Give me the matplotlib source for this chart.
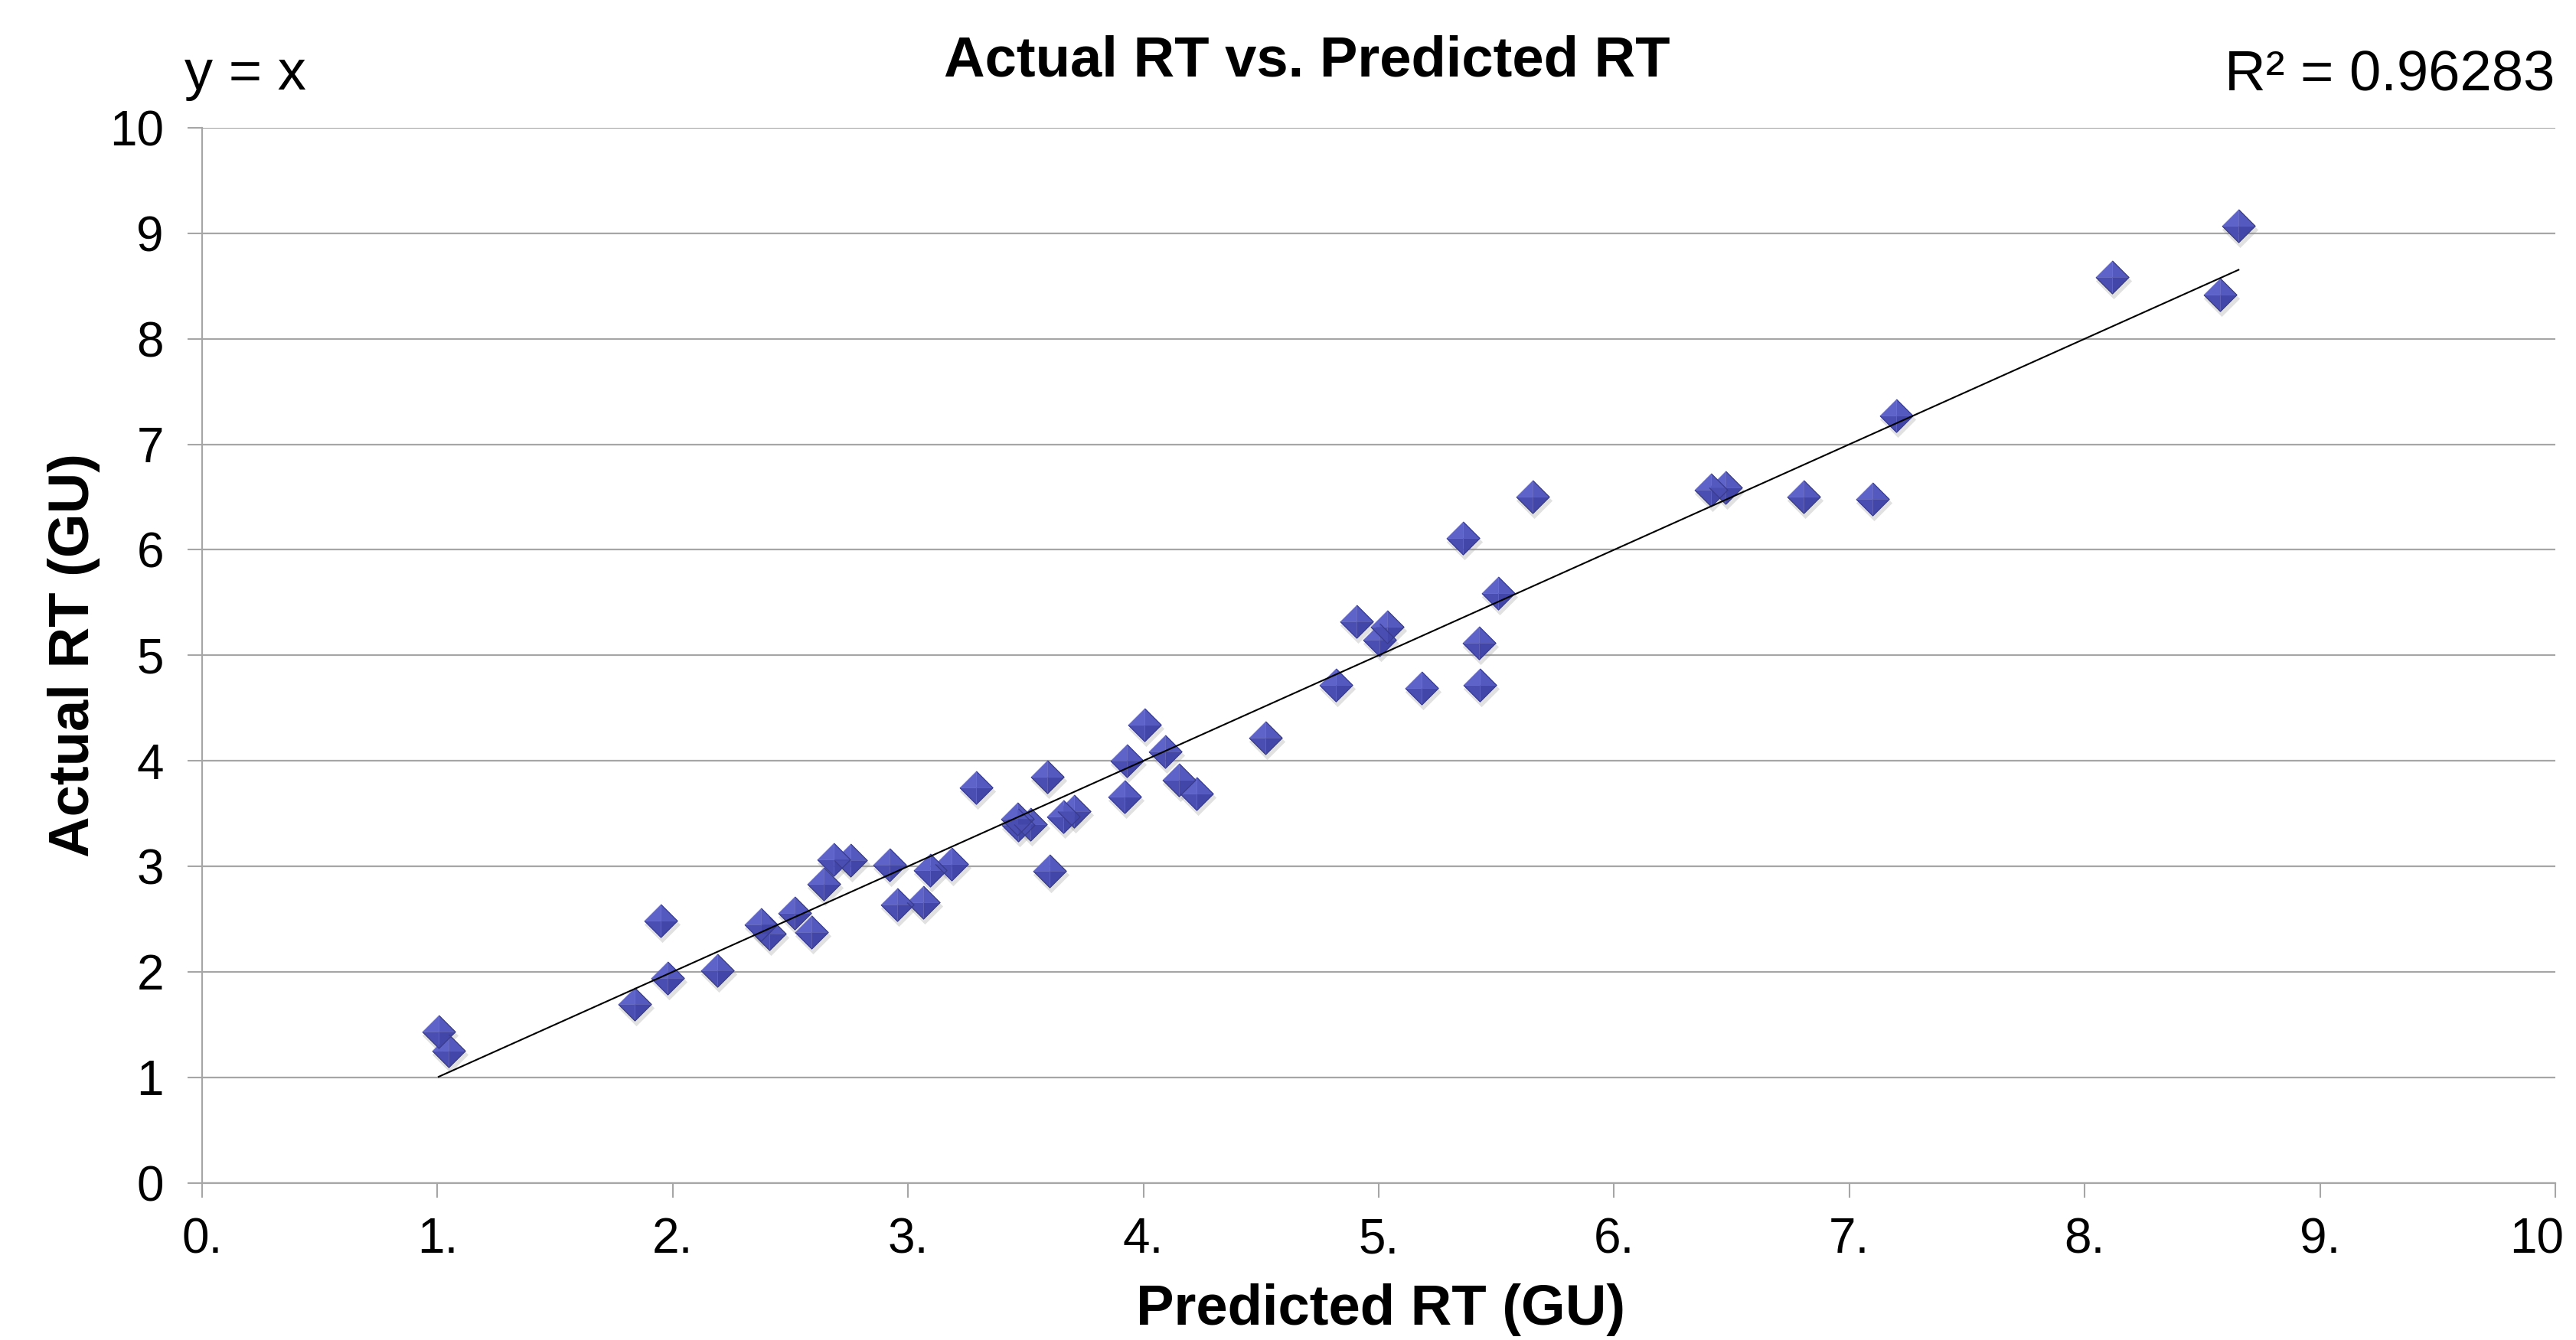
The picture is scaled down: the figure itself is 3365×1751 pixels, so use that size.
import matplotlib
matplotlib.use("Agg")
import matplotlib.pyplot as plt
import matplotlib.transforms as mtransforms

plt.rcParams['font.family'] = ['Liberation Sans', 'DejaVu Sans']

# predicted vs actual retention time (GU)
predicted = [1.005, 1.048, 1.838, 1.950, 1.977, 2.188, 2.375, 2.410, 2.519, 2.589,
             2.642, 2.685, 2.754, 2.922, 2.953, 3.066, 3.093, 3.184, 3.289, 3.466,
             3.468, 3.520, 3.591, 3.601, 3.660, 3.705, 3.919, 3.929, 4.005, 4.092,
             4.150, 4.227, 4.519, 4.818, 4.907, 5.002, 5.035, 5.183, 5.359, 5.427,
             5.430, 5.508, 5.655, 6.412, 6.473, 6.807, 7.099, 7.200, 8.115, 8.576,
             8.654]
actual = [1.436, 1.255, 1.693, 2.488, 1.940, 2.017, 2.450, 2.365, 2.559, 2.375,
          2.830, 3.064, 3.057, 3.013, 2.641, 2.660, 2.966, 3.022, 3.748, 3.451,
          3.395, 3.400, 3.850, 2.955, 3.472, 3.520, 3.662, 4.003, 4.340, 4.088,
          3.822, 3.689, 4.220, 4.720, 5.320, 5.150, 5.270, 4.692, 6.112, 5.120,
          4.720, 5.587, 6.504, 6.567, 6.591, 6.504, 6.482, 7.273, 8.587, 8.422,
          9.068]

x_ticks = [0, 1, 2, 3, 4, 5, 6, 7, 8, 9, 10]
x_ticklabels = ['0.', '1.', '2.', '3.', '4.', '5.', '6.', '7.', '8.', '9.', '10']
y_ticks = [0, 1, 2, 3, 4, 5, 6, 7, 8, 9, 10]

W, H = 3366, 1751
fig = plt.figure(figsize=(W / 100, H / 100), dpi=100)
ax = fig.add_axes([264 / W, 205.4 / H, (3338 - 264) / W, (1545.6 - 167) / H])

grey = '#a6a6a6'
ms = 31

# diamond markers with a bevelled look: shadow, four facets, outline
diamond = [(0, 1), (1, 0), (0, -1), (-1, 0)]
shadow_tr = mtransforms.offset_copy(ax.transData, fig=fig, x=2, y=-5, units='dots')
ax.plot(predicted, actual, ls='none', marker=diamond, ms=ms + 3, mfc='#888888',
        mec='none', alpha=0.25, transform=shadow_tr, zorder=2)

facets = [
    ([(0, 0), (-1, 0), (0, 1)], '#5e63c9'),   # top left
    ([(0, 0), (0, 1), (1, 0)], '#5459c0'),    # top right
    ([(0, 0), (1, 0), (0, -1)], '#4246a8'),   # bottom right
    ([(0, 0), (0, -1), (-1, 0)], '#4a4eb2'),  # bottom left
]
for verts, col in facets:
    ax.plot(predicted, actual, ls='none', marker=verts, ms=ms, mfc=col,
            mec=col, mew=0.3, zorder=3)
ax.plot(predicted, actual, ls='none', marker=diamond, ms=ms, mfc='none',
        mec='#393c8c', mew=0.9, zorder=4)

# y = x reference line over the data range
lo, hi = min(predicted), max(predicted)
ax.plot([lo, hi], [lo, hi], color='black', lw=1.5, zorder=5)

ax.set_xlim(0, 10)
ax.set_ylim(0, 10)
ax.set_xticks(x_ticks)
ax.set_xticklabels(x_ticklabels)
ax.set_yticks(y_ticks)
ax.yaxis.grid(True, color=grey, lw=1.6, zorder=0)
ax.set_axisbelow(True)
for s in ['top', 'right']:
    ax.spines[s].set_visible(False)
for s in ['left', 'bottom']:
    ax.spines[s].set_color(grey)
    ax.spines[s].set_linewidth(1.6)
ax.tick_params(axis='both', length=14, width=1.5, color=grey, labelsize=46, direction='out')
ax.tick_params(axis='x', pad=18)
ax.tick_params(axis='y', pad=22)

# last x label sits against the right edge; nudge it in so it is not cut
last = ax.get_xticklabels()[-1]
last.set_transform(last.get_transform() + mtransforms.Affine2D().translate(-24, 0))

fs = 53.5
fig.text(1707 / W, 1 - 99 / H, 'Actual RT vs. Predicted RT', ha='center', va='baseline',
         fontsize=fs, fontweight='bold')
fig.text(241 / W, 1 - 117 / H, 'y = x', ha='left', va='baseline', fontsize=fs)
fig.text(3337 / W, 1 - 117 / H, 'R² = 0.96283', ha='right', va='baseline', fontsize=fs)
fig.text(1804 / W, 20 / H, 'Predicted RT (GU)', ha='center', va='baseline',
         fontsize=fs, fontweight='bold')
fig.text(116 / W, 1 - 856 / H, 'Actual RT (GU)', rotation=90, rotation_mode='anchor',
         ha='center', va='baseline', fontsize=fs, fontweight='bold')

fig.savefig('out.png', dpi=100)
